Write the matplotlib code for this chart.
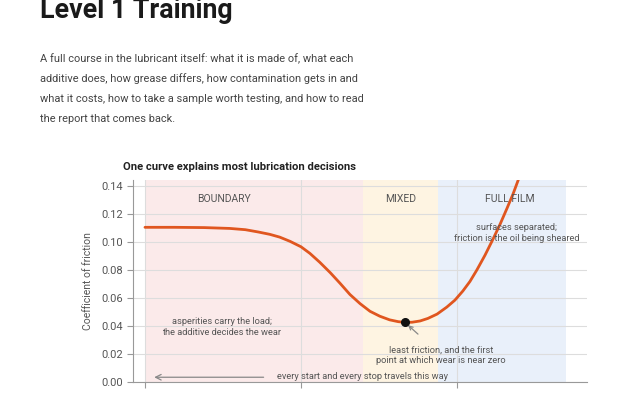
import matplotlib
matplotlib.use("Agg")
import matplotlib.pyplot as plt

plt.rcParams['font.family'] = ['Roboto', 'DejaVu Sans']

# page text
heading = "Level 1 Training"
para_lines = [
    "A full course in the lubricant itself: what it is made of, what each",
    "additive does, how grease differs, how contamination gets in and",
    "what it costs, how to take a sample worth testing, and how to read",
    "the report that comes back.",
]

# Stribeck curve (x is relative Hersey number, log scale)
hersey = [1.0, 1.55, 2.4, 3.5, 4.4, 5.3, 6.3, 7.3, 8.5, 10, 11.4, 13.2, 15.4,
          17.8, 20.6, 23.9, 27.7, 32, 37, 42, 46.4, 51.5, 58, 65, 74.5, 86,
          97, 109, 121, 134, 151, 170, 189, 209, 229, 253]
friction = [0.1105, 0.1105, 0.1103, 0.1097, 0.1088, 0.1072, 0.1055, 0.1035,
            0.1005, 0.0966, 0.0919, 0.0855, 0.0781, 0.0705, 0.0625, 0.0560,
            0.0505, 0.0470, 0.0444, 0.0431, 0.0426, 0.0427, 0.0436, 0.0454,
            0.0485, 0.0535, 0.0585, 0.0650, 0.0718, 0.0800, 0.0905, 0.1020,
            0.1128, 0.1240, 0.1345, 0.1475]
min_point = (46.4, 0.0426)

regimes = ["BOUNDARY", "MIXED", "FULL FILM"]
regime_edges = [(1, 25), (25, 75), (75, 500)]
regime_colors = ["#fbeaea", "#fef4e2", "#e9f0fa"]
regime_label_x = [3.2, 43.3, 219]

yticks = [0.00, 0.02, 0.04, 0.06, 0.08, 0.10, 0.12, 0.14]

fig = plt.figure(figsize=(6.4, 4), dpi=100)
fig.text(40 / 640, 1 - 18 / 400, heading, fontsize=19.3, fontweight='bold',
         color='#1a1a1a', va='baseline', ha='left')
for i, line in enumerate(para_lines):
    fig.text(40 / 640, 1 - (59 + 20 * i) / 400, line, fontsize=7.9,
             color='#444444', va='center', ha='left')

ax = fig.add_axes([133 / 640, 18 / 400, 454 / 640, 202 / 400])
ax.set_xscale('log')
ax.set_xlim(0.838, 681)
ax.set_ylim(0, 0.1443)

for (lo, hi), c in zip(regime_edges, regime_colors):
    ax.axvspan(lo, hi, color=c, lw=0, zorder=0)

ax.set_yticks(yticks)
ax.set_yticklabels([f"{t:.2f}" for t in yticks])
ax.set_xticks([1, 10, 100])
ax.set_xticklabels([])
ax.xaxis.set_minor_locator(matplotlib.ticker.NullLocator())
ax.grid(True, color='#dddddd', lw=0.8, zorder=1)
ax.set_axisbelow(True)
for s in ['top', 'right']:
    ax.spines[s].set_visible(False)
for s in ['left', 'bottom']:
    ax.spines[s].set_color('#999999')
ax.tick_params(colors='#999999', labelcolor='#555555', labelsize=8, length=4)

ax.plot(hersey, friction, color='#e0561f', lw=2, zorder=3, solid_capstyle='round')
ax.plot(*min_point, 'o', color='#111111', ms=5.5, zorder=4)

for name, x in zip(regimes, regime_label_x):
    ax.text(x, 0.1307, name, ha='center', va='center', fontsize=7.5, color='#555555')

ax.text(3.1, 0.0393, "asperities carry the load;\nthe additive decides the wear",
        ha='center', va='center', fontsize=6.7, color='#555555', linespacing=1.2)
ax.text(240, 0.1064, "surfaces separated;\nfriction is the oil being sheared",
        ha='center', va='center', fontsize=6.7, color='#555555', linespacing=1.2)
ax.annotate("least friction, and the first\npoint at which wear is near zero",
            xy=min_point, xytext=(79, 0.0193), ha='center', va='center',
            fontsize=6.7, color='#555555', linespacing=1.2,
            arrowprops=dict(arrowstyle='->', color='#888888', lw=0.9,
                            shrinkA=9, shrinkB=3))
ax.annotate("", xy=(1.1, 0.0034), xytext=(6.0, 0.0034),
            arrowprops=dict(arrowstyle='->', color='#888888', lw=0.9))
ax.text(7.0, 0.0036, "every start and every stop travels this way",
        ha='left', va='center', fontsize=6.7, color='#555555')

ax.set_ylabel("Coefficient of friction", fontsize=7.5, color='#555555', labelpad=6)
ax.set_xlabel("viscosity \u00d7 speed \u00f7 load  (the Hersey group, relative)",
              fontsize=7.5, color='#555555', labelpad=12)
fig.text(123 / 640, 1 - 167 / 400, "One curve explains most lubrication decisions",
         fontsize=8.15, fontweight='semibold', color='#222222', va='center', ha='left')

fig.savefig("out.png", dpi=100)
